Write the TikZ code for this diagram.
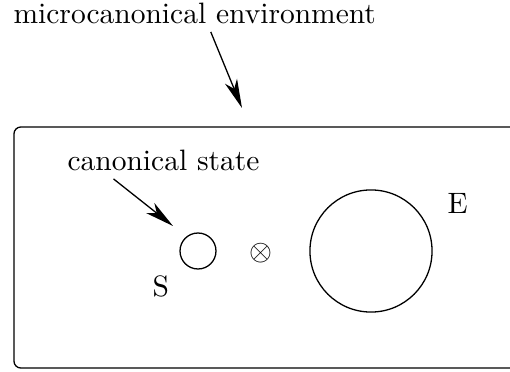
\documentclass[tikz,border=0pt]{standalone}
\usetikzlibrary{arrows.meta}
\begin{document}
\begin{tikzpicture}[x=0.339pt, y=-0.339pt,
  every node/.style={inner sep=0pt},
  pointer/.style={-{Stealth[length=9.8pt, width=4.4pt, inset=2.8pt]}, line width=0.44pt},
  system/.style={circle, draw, line width=0.44pt}]
  \useasboundingbox (0,0) rectangle (510,372);
  \clip (0,0) rectangle (510,372);

  % environment box, open to the right
  \draw[line width=0.44pt, rounded corners=2.3pt] (530,127) -- (14,127) -- (14,368) -- (530,368);

  % the two parts
  \node[system, minimum size=12.2pt] (sys) at (198,251) {};
  \node[system, minimum size=41.4pt] (env) at (371,251) {};
  \node (prod) at (261,253) {$\otimes$};
  \node[anchor=base west] (slbl) at (152,296) {S};
  \node[anchor=base west] (elbl) at (447,213) {E};

  % labels with pointers
  \node[anchor=base west] (mic) at (13,23) {microcanonical environment};
  \node[anchor=base west] (can) at (67,170) {canonical state};
  \coordinate (envtip) at (242,108);
  \coordinate (systip) at (173,226);
  \draw[pointer] ([shift={(16,8)}]mic.south) -- (envtip);
  \draw[pointer] ([shift={(-50,8)}]can.south) -- (systip);
\end{tikzpicture}
\end{document}
